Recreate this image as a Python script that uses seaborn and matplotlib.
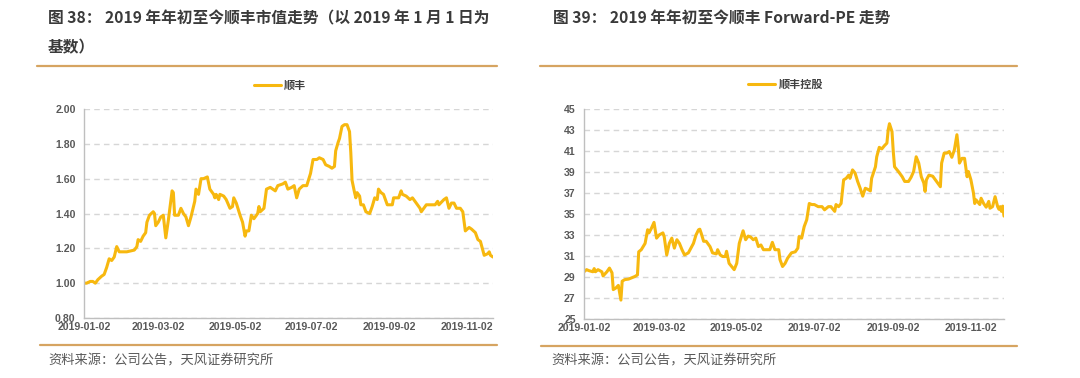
import pandas as pd
import seaborn as sns
import matplotlib.pyplot as plt
import matplotlib.dates as mdates
from matplotlib.lines import Line2D

sns.set_style('white')
plt.rcParams['font.family'] = ['Noto Sans CJK SC', 'DejaVu Sans']

# 图38: 顺丰市值 (2019-01-01 = 1)
sf_days = ['01-02', '01-04', '01-07', '01-09', '01-11', '01-13', '01-16', '01-18', '01-20', '01-22',
           '01-24', '01-26', '01-28', '01-30', '02-05', '02-11', '02-13', '02-14', '02-16', '02-18',
           '02-20', '02-21', '02-23', '02-26', '02-27', '02-28', '03-02', '03-04', '03-06', '03-08',
           '03-10', '03-13', '03-14', '03-15', '03-18', '03-20', '03-22', '03-24', '03-26', '03-28',
           '03-31', '04-01', '04-03', '04-05', '04-07', '04-10', '04-12', '04-15', '04-16', '04-17',
           '04-19', '04-20', '04-23', '04-25', '04-28', '04-30', '05-01', '05-03', '05-06', '05-08',
           '05-10', '05-11', '05-13', '05-15', '05-17', '05-20', '05-21', '05-22', '05-25', '05-27',
           '05-30', '06-03', '06-05', '06-09', '06-11', '06-13', '06-16', '06-18', '06-20', '06-22',
           '06-25', '06-28', '07-01', '07-03', '07-06', '07-08', '07-11', '07-13', '07-16', '07-18',
           '07-20', '07-21', '07-23', '07-24', '07-26', '07-28', '07-30', '08-01', '08-02', '08-03',
           '08-05', '08-06', '08-07', '08-09', '08-10', '08-12', '08-14', '08-17', '08-19', '08-21',
           '08-23', '08-24', '08-26', '08-28', '08-31', '09-04', '09-05', '09-09', '09-11', '09-12',
           '09-15', '09-18', '09-20', '09-23', '09-26', '09-27', '10-01', '10-05', '10-08', '10-10',
           '10-11', '10-15', '10-17', '10-19', '10-21', '10-23', '10-25', '10-28', '10-30', '11-01',
           '11-04', '11-06', '11-09', '11-11', '11-13', '11-16', '11-19', '11-20', '11-21', '11-23']
sf_values = [1.00, 1.00, 1.01, 1.01, 1.00, 1.02, 1.04, 1.05, 1.09, 1.14,
             1.13, 1.15, 1.21, 1.18, 1.18, 1.19, 1.21, 1.25, 1.24, 1.27,
             1.29, 1.35, 1.39, 1.41, 1.40, 1.33, 1.35, 1.38, 1.39, 1.26,
             1.36, 1.53, 1.52, 1.39, 1.39, 1.43, 1.40, 1.38, 1.33, 1.38,
             1.47, 1.54, 1.51, 1.60, 1.60, 1.61, 1.54, 1.51, 1.49, 1.51,
             1.48, 1.51, 1.50, 1.48, 1.43, 1.44, 1.49, 1.46, 1.39, 1.35,
             1.27, 1.30, 1.30, 1.39, 1.37, 1.40, 1.44, 1.41, 1.43, 1.54,
             1.55, 1.53, 1.56, 1.57, 1.58, 1.54, 1.55, 1.56, 1.49, 1.54,
             1.56, 1.56, 1.63, 1.71, 1.71, 1.72, 1.71, 1.68, 1.67, 1.66,
             1.67, 1.76, 1.81, 1.83, 1.90, 1.91, 1.91, 1.87, 1.75, 1.59,
             1.52, 1.49, 1.52, 1.50, 1.45, 1.45, 1.41, 1.40, 1.44, 1.49,
             1.48, 1.54, 1.52, 1.51, 1.45, 1.45, 1.49, 1.49, 1.53, 1.51,
             1.50, 1.48, 1.49, 1.46, 1.43, 1.41, 1.45, 1.45, 1.45, 1.47,
             1.45, 1.48, 1.49, 1.43, 1.46, 1.46, 1.43, 1.43, 1.41, 1.30,
             1.32, 1.31, 1.29, 1.25, 1.24, 1.16, 1.17, 1.18, 1.16, 1.15]

# 图39: 顺丰控股 Forward-PE
pe_days = ['01-02', '01-04', '01-06', '01-09', '01-10', '01-11', '01-13', '01-16', '01-17', '01-20',
           '01-22', '01-24', '01-25', '01-27', '01-29', '01-31', '02-01', '02-03', '02-06', '02-08',
           '02-11', '02-13', '02-14', '02-16', '02-19', '02-21', '02-22', '02-24', '02-26', '02-28',
           '03-02', '03-05', '03-06', '03-08', '03-10', '03-12', '03-14', '03-16', '03-18', '03-20',
           '03-22', '03-25', '03-27', '03-29', '03-31', '04-02', '04-03', '04-04', '04-06', '04-08',
           '04-11', '04-13', '04-16', '04-17', '04-19', '04-21', '04-23', '04-24', '04-26', '04-28',
           '04-30', '05-02', '05-04', '05-07', '05-09', '05-11', '05-13', '05-15', '05-17', '05-19',
           '05-21', '05-23', '05-25', '05-28', '05-30', '06-01', '06-04', '06-05', '06-07', '06-09',
           '06-11', '06-14', '06-17', '06-19', '06-20', '06-22', '06-24', '06-26', '06-28', '06-30',
           '07-02', '07-05', '07-08', '07-10', '07-13', '07-15', '07-18', '07-19', '07-21', '07-23',
           '07-25', '07-27', '07-29', '07-30', '08-01', '08-03', '08-05', '08-07', '08-09', '08-11',
           '08-13', '08-15', '08-16', '08-19', '08-20', '08-22', '08-24', '08-26', '08-28', '08-29',
           '08-30', '09-01', '09-02', '09-03', '09-06', '09-09', '09-11', '09-14', '09-16', '09-18',
           '09-20', '09-22', '09-24', '09-26', '09-27', '09-28', '09-30', '10-03', '10-06', '10-09',
           '10-10', '10-12', '10-14', '10-16', '10-18', '10-20', '10-22', '10-23', '10-24', '10-26',
           '10-28', '10-30', '10-31', '11-02', '11-04', '11-05', '11-06', '11-09', '11-10', '11-12',
           '11-14', '11-16', '11-17', '11-19', '11-21', '11-23', '11-24', '11-25', '11-26', '11-27',
           '11-28']
pe_values = [29.5, 29.7, 29.6, 29.5, 29.8, 29.5, 29.7, 29.5, 29.1, 29.5,
             29.85, 29.4, 27.8, 27.95, 28.2, 26.8, 28.6, 28.75, 28.8, 28.9,
             29.05, 29.2, 31.4, 31.6, 32.2, 33.5, 33.2, 33.65, 34.2, 32.7,
             33.0, 33.2, 32.85, 31.1, 32.2, 32.7, 31.75, 32.55, 32.2, 31.6,
             31.1, 31.3, 31.75, 32.2, 33.0, 33.5, 33.55, 33.2, 32.4, 32.4,
             31.9, 31.3, 31.2, 31.6, 31.1, 30.95, 30.95, 31.45, 30.3, 30.0,
             29.7, 30.3, 32.2, 33.4, 32.55, 32.9, 32.8, 32.55, 32.7, 31.9,
             32.05, 31.6, 31.6, 31.6, 32.3, 31.6, 31.6, 30.65, 30.0, 30.3,
             30.8, 31.3, 31.4, 31.75, 32.85, 32.7, 33.8, 34.45, 36.0, 35.9,
             35.9, 35.7, 35.7, 35.4, 35.7, 35.7, 35.25, 35.9, 35.7, 36.0,
             38.25, 38.4, 38.7, 38.4, 39.2, 38.9, 38.1, 37.45, 36.7, 37.45,
             37.35, 37.2, 38.4, 39.5, 40.45, 41.35, 41.2, 41.5, 41.75, 43.0,
             43.6, 42.85, 40.95, 39.5, 39.05, 38.55, 38.1, 38.1, 38.5, 39.05,
             40.45, 39.85, 38.55, 37.95, 37.15, 38.25, 38.7, 38.6, 38.1, 37.6,
             39.85, 40.8, 40.8, 40.95, 40.4, 41.1, 42.55, 41.4, 39.85, 40.3,
             40.3, 38.55, 39.05, 38.25, 37.0, 36.0, 36.35, 35.9, 36.5, 36.0,
             35.65, 36.2, 35.55, 35.7, 36.65, 35.7, 35.45, 35.7, 35.25, 35.75,
             34.8]

tick_days = ['01-02', '03-02', '05-02', '07-02', '09-02', '11-02']

sf_dates = pd.to_datetime(['2019-' + d for d in sf_days])
pe_dates = pd.to_datetime(['2019-' + d for d in pe_days])
tick_dates = pd.to_datetime(['2019-' + d for d in tick_days])

line_color = '#F7B80F'
grid_color = '#D6D6D6'
rule_color = '#D6A461'
text_gray = '#595959'

W, H = 1080, 378
fig = plt.figure(figsize=(10.8, 3.78), dpi=100)


def px(x0, y0, x1, y1):
    return [x0 / W, 1 - y1 / H, (x1 - x0) / W, (y1 - y0) / H]


def style_axis(ax, dates, ylim, yticks, yfmt, label):
    ax.set_xlim(dates[0], dates[-1])
    ax.set_ylim(*ylim)
    ax.set_yticks(yticks)
    ax.set_yticklabels([yfmt.format(v) for v in yticks])
    ax.set_xticks(tick_dates)
    ax.xaxis.set_major_formatter(mdates.DateFormatter('%Y-%m-%d'))
    ax.set_xlabel('')
    ax.set_ylabel('')
    ax.grid(axis='y', color=grid_color, linestyle=(0, (4, 3)), linewidth=1)
    ax.grid(axis='x', visible=False)
    for s in ['top', 'right']:
        ax.spines[s].set_visible(False)
    for s in ['left', 'bottom']:
        ax.spines[s].set_color('#BFBFBF')
        ax.spines[s].set_linewidth(1)
    ax.tick_params(axis='x', direction='in', length=3, color='#BFBFBF', pad=3)
    ax.tick_params(axis='y', length=0, pad=6)
    for t in ax.get_xticklabels() + ax.get_yticklabels():
        t.set_fontfamily(['Liberation Sans', 'DejaVu Sans'])
        t.set_fontweight('bold')
        t.set_fontsize(7.6)
        t.set_color(text_gray)
    handle = Line2D([], [], color=line_color, linewidth=2.2)
    leg = ax.legend([handle], [label], loc='center', bbox_to_anchor=(0.48, 1.115),
                    frameon=False, handlelength=2.4, handletextpad=0.3,
                    prop={'size': 8, 'weight': 'bold'})
    for t in leg.get_texts():
        t.set_color('#404040')


ax1 = fig.add_axes(px(84, 109, 493, 318))
sns.lineplot(x=sf_dates, y=sf_values, ax=ax1, color=line_color, linewidth=2.2)
style_axis(ax1, sf_dates, (0.8, 2.0), [0.8, 1.0, 1.2, 1.4, 1.6, 1.8, 2.0], '{:.2f}', '顺丰')

ax2 = fig.add_axes(px(584, 109, 1004, 319))
sns.lineplot(x=pe_dates, y=pe_values, ax=ax2, color=line_color, linewidth=2.2)
style_axis(ax2, pe_dates, (25, 45), list(range(25, 46, 2)), '{:d}', '顺丰控股')

# titles
title_kw = dict(fontsize=11.3, fontweight='bold', color='#3A3A3A', va='center', ha='left')
fig.text(48 / W, 1 - 18 / H, '图 38： 2019 年年初至今顺丰市值走势（以 2019 年 1 月 1 日为', **title_kw)
fig.text(48 / W, 1 - 47 / H, '基数）', **title_kw)
fig.text(553 / W, 1 - 18 / H, '图 39： 2019 年年初至今顺丰 Forward-PE 走势', **title_kw)

# rules
for x0, x1, y in [(37, 497, 66), (40, 497, 345), (540, 1017, 66), (541, 1017, 346)]:
    fig.add_artist(Line2D([x0 / W, x1 / W], [1 - y / H, 1 - y / H], color=rule_color, linewidth=1.6))

# source notes
src_kw = dict(fontsize=9.5, color=text_gray, va='center', ha='left')
fig.text(48 / W, 1 - 361 / H, '资料来源：公司公告，天风证券研究所', **src_kw)
fig.text(551 / W, 1 - 361 / H, '资料来源：公司公告，天风证券研究所', **src_kw)

fig.savefig('out.png', dpi=100)
